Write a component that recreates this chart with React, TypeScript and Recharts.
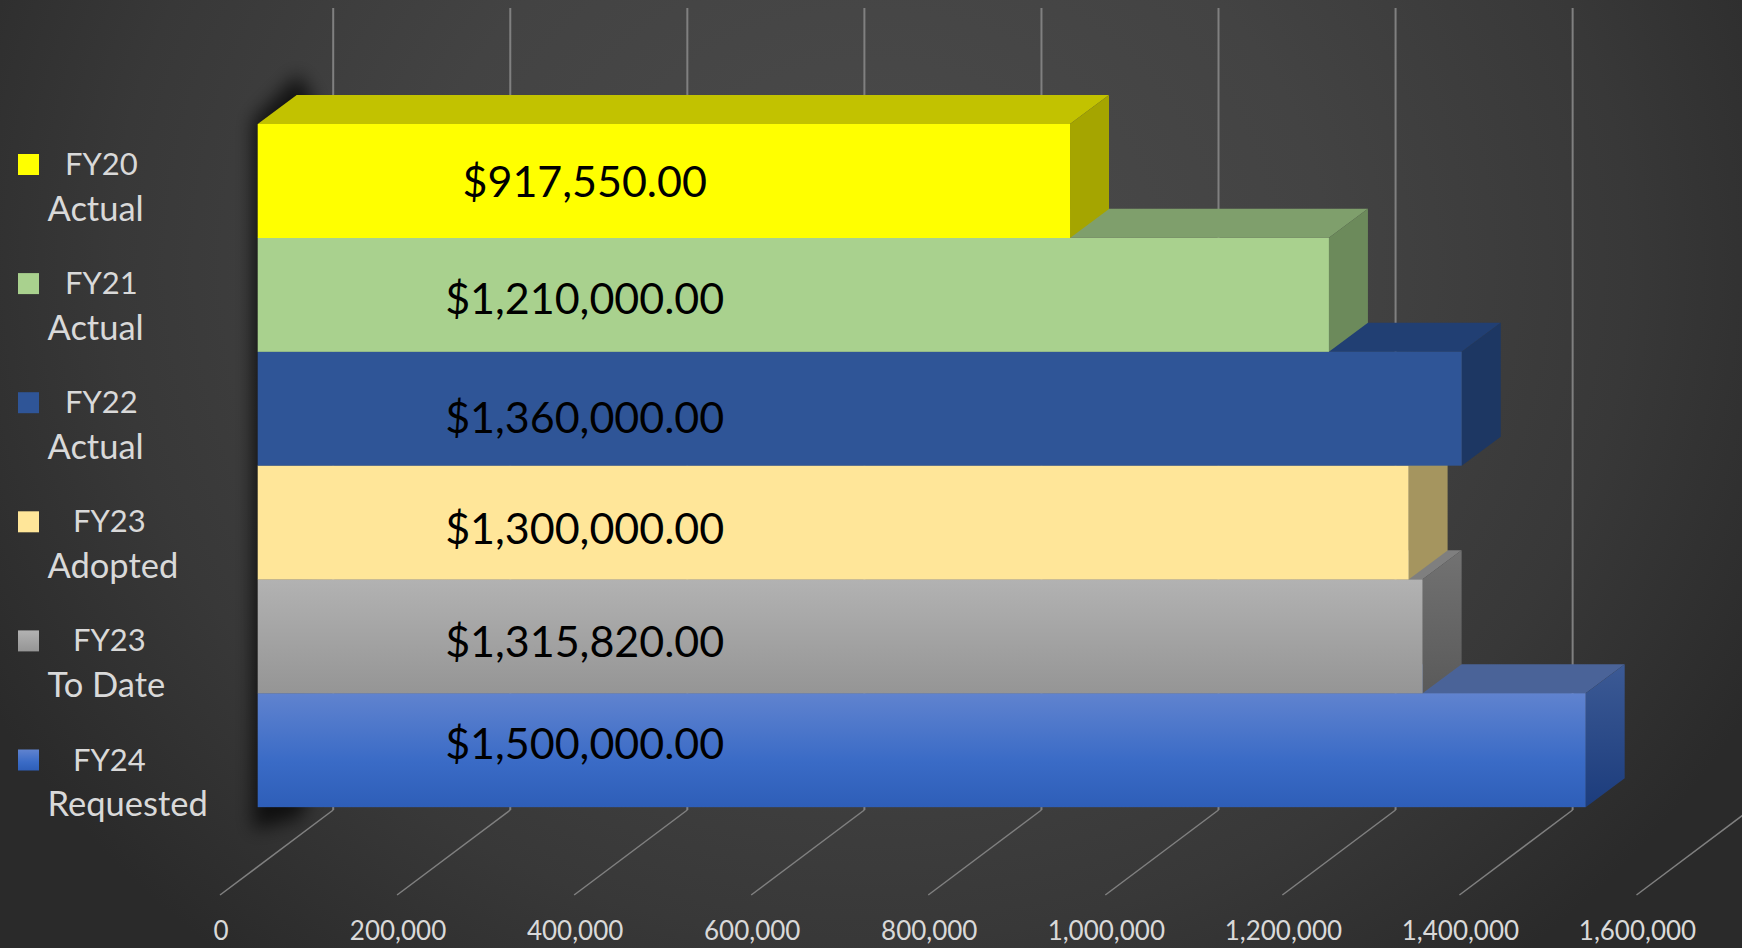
import { BarChart, Bar, XAxis, YAxis, CartesianGrid, LabelList } from 'recharts';

// fiscal year labels, top to bottom as they read on the picture
const yearLabels = ['FY20', 'FY21', 'FY22', 'FY23', 'FY23', 'FY24'];
const statusLabels = ['Actual', 'Actual', 'Actual', 'Adopted', 'To Date', 'Requested'];
const budgetValues = [917550, 1210000, 1360000, 1300000, 1315820, 1500000];
const axisTicks = [0, 200000, 400000, 600000, 800000, 1000000, 1200000, 1400000, 1600000];
const AXIS_MAX = 1600000;

// face colours per bar
const FRONT = ['#ffff00', '#a9d18e', '#2f5597', '#ffe699', 'url(#greyFront)', 'url(#blueFront)'];
const TOP = ['#c2c200', '#7f9f6c', '#213f73', '#b3a16b', '#7f7f7f', '#4a6398'];
const SIDE = ['#a5a500', '#6c8a5b', '#1d3763', '#a5955f', 'url(#greySide)', 'url(#blueSide)'];

// label tweaks, Excel did not center these exactly
const LABEL_NUDGE = [-1, 3, 8, 5, 4, -8];
const YEAR_X = [65, 65, 65, 73, 73, 73];

const WIDTH = 1742;
const HEIGHT = 948;
const DEPTH_X = 39;
const DEPTH_Y = 29;
const WALL_X = 75.5;
const FLOOR_BACK_Y = 810;
const FLOOR_FRONT_Y = 895;
const FLOOR_FRONT_X = -37.7;

const usd = (v: number) =>
  new Intl.NumberFormat('en-US', { style: 'currency', currency: 'USD', minimumFractionDigits: 2 }).format(v);

// last bar first, so the upper bars paint over the tops of the lower ones
const rows = yearLabels
  .map((year, i) => ({ name: `${year} ${statusLabels[i]}`, value: budgetValues[i], idx: i }))
  .reverse();

const FONT = 'Lato, sans-serif';

function Bar3D(props: any) {
  const { x, y, width, height, payload } = props;
  const i = payload.idx;
  const r = x + width;
  const b = y + height;
  return (
    <g>
      <polygon
        points={`${x},${y} ${x + DEPTH_X},${y - DEPTH_Y} ${r + DEPTH_X},${y - DEPTH_Y} ${r},${y}`}
        fill={TOP[i]}
      />
      <polygon
        points={`${r},${y} ${r + DEPTH_X},${y - DEPTH_Y} ${r + DEPTH_X},${b - DEPTH_Y} ${r},${b}`}
        fill={SIDE[i]}
      />
      <rect x={x} y={y} width={width} height={height} fill={FRONT[i]} />
    </g>
  );
}

function FloorTick(props: any) {
  const { x, payload } = props;
  return (
    <g>
      <polyline
        points={`${x + FLOOR_FRONT_X},${FLOOR_FRONT_Y} ${x + WALL_X},${FLOOR_BACK_Y}`}
        fill="none"
        stroke="#808080"
        strokeWidth={1.5}
      />
      <text
        x={x + FLOOR_FRONT_X + 1}
        y={940}
        textAnchor="middle"
        fontFamily={FONT}
        fontSize={26}
        fill="#d9d9d9"
      >
        {payload.value.toLocaleString('en-US')}
      </text>
    </g>
  );
}

function ValueLabel(props: any) {
  const { x, y, height, value, index } = props;
  const nudge = LABEL_NUDGE[rows[index].idx];
  return (
    <text
      x={x + 327}
      y={y + height / 2 + nudge}
      textAnchor="middle"
      dominantBaseline="central"
      fontFamily={FONT}
      fontSize={43}
      fill="#000000"
    >
      {usd(value)}
    </text>
  );
}

function LegendBlock() {
  return (
    <g fontFamily={FONT} fill="#d9d9d9">
      {yearLabels.map((year, i) => {
        const base = 175 + i * 119.1;
        return (
          <g key={i}>
            <rect x={18} y={base - 21} width={21} height={21} fill={FRONT[i]} />
            <text x={YEAR_X[i]} y={base} fontSize={31}>
              {year}
            </text>
            <text x={47.5} y={base + 45.5} fontSize={34.5}>
              {statusLabels[i]}
            </text>
          </g>
        );
      })}
    </g>
  );
}

export default function App() {
  return (
    <div
      style={{
        position: 'absolute',
        left: 0,
        top: 0,
        width: WIDTH,
        height: HEIGHT,
        overflow: 'hidden',
        background: 'radial-gradient(ellipse 58% 95% at 50% 28%, #4b4b4b 0%, #434343 45%, #383838 75%, #2a2a2a 100%)',
      }}
    >
      <BarChart
        width={WIDTH}
        height={HEIGHT}
        data={rows}
        layout="vertical"
        barCategoryGap={0}
        margin={{ top: 124, right: 67.8, bottom: 111, left: 257.7 }}
      >
        <defs>
          <linearGradient id="greyFront" x1="0" y1="0" x2="0" y2="1">
            <stop offset="0" stopColor="#b2b2b2" />
            <stop offset="1" stopColor="#959595" />
          </linearGradient>
          <linearGradient id="greySide" x1="0" y1="0" x2="0" y2="1">
            <stop offset="0" stopColor="#727272" />
            <stop offset="1" stopColor="#5a5a5a" />
          </linearGradient>
          <linearGradient id="blueFront" x1="0" y1="0" x2="0" y2="1">
            <stop offset="0" stopColor="#6083cf" />
            <stop offset="0.6" stopColor="#3a6bc6" />
            <stop offset="1" stopColor="#2e5eb8" />
          </linearGradient>
          <linearGradient id="blueSide" x1="0" y1="0" x2="0" y2="1">
            <stop offset="0" stopColor="#3c5a95" />
            <stop offset="1" stopColor="#1c3c7c" />
          </linearGradient>
          <filter id="wallShadow" x="-100%" y="-10%" width="300%" height="120%">
            <feGaussianBlur stdDeviation="9" />
          </filter>
        </defs>
        <polygon
          points="253,120 298,74 312,95 312,790 300,818 253,830"
          fill="#000000"
          fillOpacity={0.7}
          filter="url(#wallShadow)"
        />
        <LegendBlock />
        <CartesianGrid
          horizontal={false}
          y={8}
          height={802}
          stroke="#808080"
          strokeWidth={2}
          verticalCoordinatesGenerator={({ offset }: any) =>
            axisTicks.map((t) => offset.left + (t / AXIS_MAX) * offset.width + WALL_X)
          }
        />
        <XAxis
          type="number"
          domain={[0, AXIS_MAX]}
          ticks={axisTicks}
          interval={0}
          axisLine={false}
          tickLine={false}
          height={30}
          tick={FloorTick}
        />
        <YAxis type="category" dataKey="name" reversed hide />
        <Bar dataKey="value" shape={Bar3D} isAnimationActive={false}>
          <LabelList dataKey="value" content={ValueLabel} />
        </Bar>
      </BarChart>
    </div>
  );
}
